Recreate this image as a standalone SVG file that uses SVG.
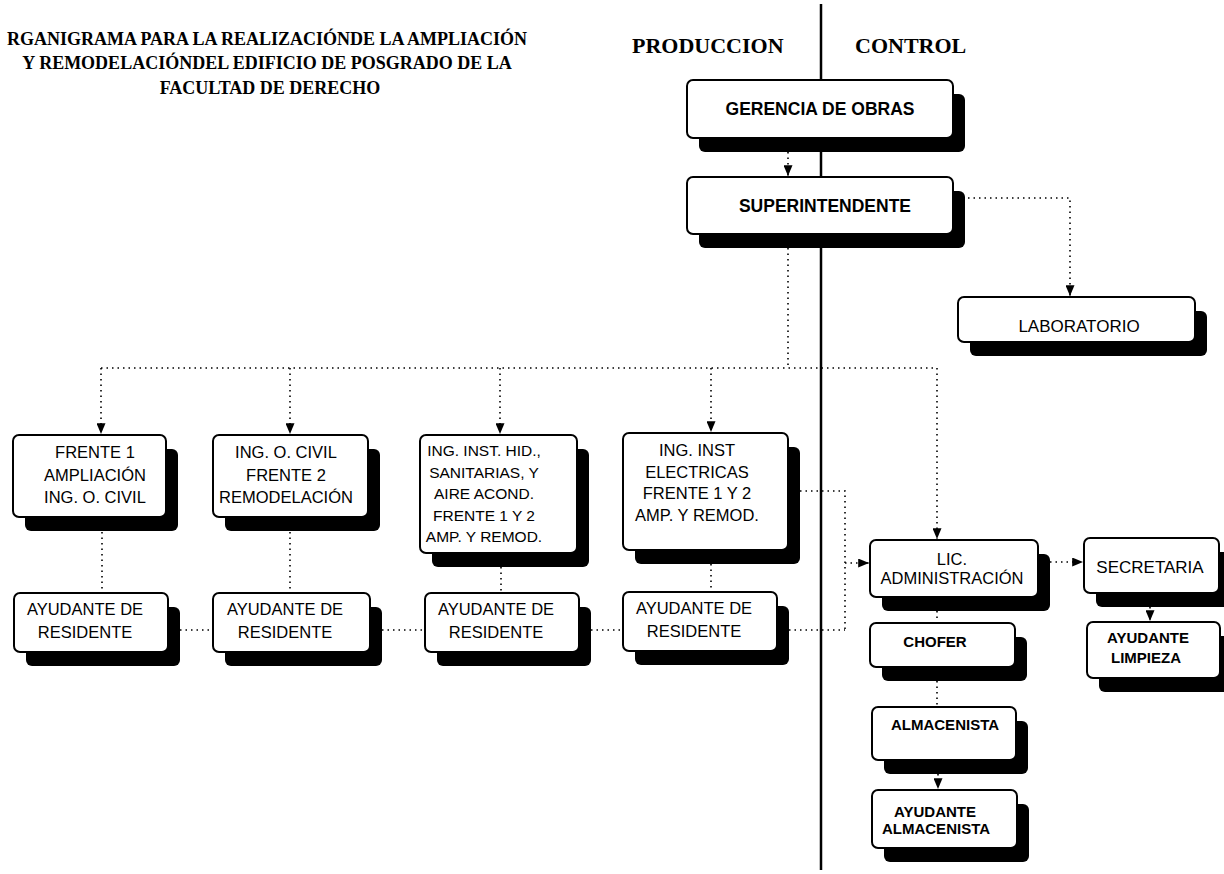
<svg xmlns="http://www.w3.org/2000/svg" width="1224" height="874" viewBox="0 0 1224 874">
<style>
.bg{fill:#fff}
.box{fill:#fff;stroke:#000;stroke-width:2}
.sh{fill:#000}
.dot{fill:none;stroke:#000;stroke-width:1.6;stroke-dasharray:1.5 4}
.axis{fill:none;stroke:#000;stroke-width:2.5}
.t{font-family:"Liberation Sans",Arial,sans-serif;font-size:16.5px;fill:#000;text-anchor:middle}
.b{font-weight:bold}
.s15{font-size:15px}
.hd{font-family:"Liberation Serif","Times New Roman",serif;font-weight:bold;fill:#000}
.title{font-size:18px;text-anchor:middle}
.col{font-size:22px}
</style>
<defs>
<marker id="ah" viewBox="0 0 12 10" refX="12" refY="5" markerWidth="12" markerHeight="9" markerUnits="userSpaceOnUse" orient="auto">
<path d="M0,0 L12,5 L0,10 z" fill="#000"/>
</marker>
</defs>
<rect class="bg" x="0" y="0" width="1224" height="874"/>

<g id="title">
<text class="hd title" x="267" y="45">RGANIGRAMA PARA LA REALIZACIÓNDE LA AMPLIACIÓN</text>
<text class="hd title" x="267" y="69">Y REMODELACIÓNDEL EDIFICIO DE POSGRADO DE LA</text>
<text class="hd title" x="270" y="94">FACULTAD DE DERECHO</text>
</g>
<g id="headers">
<text class="hd col" x="632" y="53">PRODUCCION</text>
<text class="hd col" x="855" y="53">CONTROL</text>
<line class="axis" x1="821" y1="4" x2="821" y2="870"/>
</g>

<g id="connectors">
<path class="dot" d="M788,152 V176" marker-end="url(#ah)"/>
<path class="dot" d="M788,248 V368"/>
<path class="dot" d="M968,198 H1070 V296" marker-end="url(#ah)"/>
<path class="dot" d="M101,368 H937"/>
<path class="dot" d="M101,368 V434" marker-end="url(#ah)"/>
<path class="dot" d="M290,368 V434" marker-end="url(#ah)"/>
<path class="dot" d="M500,368 V434" marker-end="url(#ah)"/>
<path class="dot" d="M711,368 V432" marker-end="url(#ah)"/>
<path class="dot" d="M937,368 V539" marker-end="url(#ah)"/>
<path class="dot" d="M102,532 V593"/>
<path class="dot" d="M290,532 V593"/>
<path class="dot" d="M501,567 V593"/>
<path class="dot" d="M711,564 V592"/>
<path class="dot" d="M180,630 H213"/>
<path class="dot" d="M382,630 H425"/>
<path class="dot" d="M591,630 H623"/>
<path class="dot" d="M789,630 H845"/>
<path class="dot" d="M800,491 H845 V630"/>
<path class="dot" d="M845,563 H869" marker-end="url(#ah)"/>
<path class="dot" d="M1050,562 H1083" marker-end="url(#ah)"/>
<path class="dot" d="M1150,607 V621" marker-end="url(#ah)"/>
<path class="dot" d="M937,611 V623"/>
<path class="dot" d="M937,681 V707"/>
<path class="dot" d="M938,774 V789" marker-end="url(#ah)"/>
</g>

<g id="gerencia">
<rect class="sh" x="699" y="94" width="266" height="58" rx="6"/>
<rect class="box" x="687" y="80" width="266" height="58" rx="6"/>
<text class="t b" style="font-size:17.5px" x="820" y="115">GERENCIA DE OBRAS</text>
</g>
<g id="superintendente">
<rect class="sh" x="699" y="191" width="266" height="57" rx="6"/>
<rect class="box" x="687" y="177" width="266" height="57" rx="6"/>
<text class="t b" style="font-size:17.5px" x="825" y="212">SUPERINTENDENTE</text>
</g>
<g id="laboratorio">
<rect class="sh" x="970" y="311" width="237" height="45" rx="6"/>
<rect class="box" x="958" y="297" width="237" height="45" rx="6"/>
<text class="t" style="font-size:17px" x="1079" y="332">LABORATORIO</text>
</g>
<g id="frente1">
<rect class="sh" x="25" y="449" width="153" height="82" rx="6"/>
<rect class="box" x="13" y="435" width="153" height="82" rx="6"/>
<text class="t" x="95" y="458">FRENTE 1</text>
<text class="t" x="95" y="481">AMPLIACIÓN</text>
<text class="t" x="95" y="503">ING. O. CIVIL</text>
</g>
<g id="frente2">
<rect class="sh" x="225" y="449" width="155" height="82" rx="6"/>
<rect class="box" x="213" y="435" width="155" height="82" rx="6"/>
<text class="t" x="286" y="458">ING. O. CIVIL</text>
<text class="t" x="286" y="481">FRENTE 2</text>
<text class="t" x="286" y="503">REMODELACIÓN</text>
</g>
<g id="hidraulicas">
<rect class="sh" x="432" y="449" width="157" height="118" rx="6"/>
<rect class="box" x="420" y="435" width="157" height="118" rx="6"/>
<text class="t" style="font-size:15.5px" x="484" y="456">ING. INST. HID.,</text>
<text class="t" style="font-size:15.5px" x="484" y="477.5">SANITARIAS, Y</text>
<text class="t" style="font-size:15.5px" x="484" y="499">AIRE ACOND.</text>
<text class="t" style="font-size:15.5px" x="484" y="520.5">FRENTE 1 Y 2</text>
<text class="t" style="font-size:15.5px" x="484" y="542">AMP. Y REMOD.</text>
</g>
<g id="electricas">
<rect class="sh" x="635" y="447" width="165" height="117" rx="6"/>
<rect class="box" x="623" y="433" width="165" height="117" rx="6"/>
<text class="t" x="697" y="456">ING. INST</text>
<text class="t" x="697" y="478">ELECTRICAS</text>
<text class="t" x="697" y="499">FRENTE 1 Y 2</text>
<text class="t" x="697" y="521">AMP. Y REMOD.</text>
</g>
<g id="ayudante1">
<rect class="sh" x="26" y="607" width="154" height="59" rx="6"/>
<rect class="box" x="14" y="593" width="154" height="59" rx="6"/>
<text class="t" x="85" y="615">AYUDANTE DE</text>
<text class="t" x="85" y="638">RESIDENTE</text>
</g>
<g id="ayudante2">
<rect class="sh" x="225" y="607" width="157" height="59" rx="6"/>
<rect class="box" x="213" y="593" width="157" height="59" rx="6"/>
<text class="t" x="285" y="615">AYUDANTE DE</text>
<text class="t" x="285" y="638">RESIDENTE</text>
</g>
<g id="ayudante3">
<rect class="sh" x="437" y="607" width="154" height="59" rx="6"/>
<rect class="box" x="425" y="593" width="154" height="59" rx="6"/>
<text class="t" x="496" y="615">AYUDANTE DE</text>
<text class="t" x="496" y="638">RESIDENTE</text>
</g>
<g id="ayudante4">
<rect class="sh" x="635" y="606" width="154" height="59" rx="6"/>
<rect class="box" x="623" y="592" width="154" height="59" rx="6"/>
<text class="t" x="694" y="614">AYUDANTE DE</text>
<text class="t" x="694" y="637">RESIDENTE</text>
</g>
<g id="administracion">
<rect class="sh" x="882" y="554" width="168" height="57" rx="6"/>
<rect class="box" x="870" y="540" width="168" height="57" rx="6"/>
<text class="t" x="952" y="565">LIC.</text>
<text class="t" x="952" y="584">ADMINISTRACIÓN</text>
</g>
<g id="secretaria">
<rect class="sh" x="1096" y="552" width="135" height="55" rx="6"/>
<rect class="box" x="1084" y="538" width="135" height="55" rx="6"/>
<text class="t" style="font-size:17px" x="1150" y="573">SECRETARIA</text>
</g>
<g id="chofer">
<rect class="sh" x="882" y="637" width="145" height="44" rx="6"/>
<rect class="box" x="870" y="623" width="145" height="44" rx="6"/>
<text class="t b s15" x="935" y="647">CHOFER</text>
</g>
<g id="almacenista">
<rect class="sh" x="884" y="721" width="144" height="53" rx="6"/>
<rect class="box" x="872" y="707" width="144" height="53" rx="6"/>
<text class="t b s15" x="945" y="730">ALMACENISTA</text>
</g>
<g id="ayudante-almacenista">
<rect class="sh" x="884" y="804" width="145" height="58" rx="6"/>
<rect class="box" x="872" y="790" width="145" height="58" rx="6"/>
<text class="t b s15" x="935" y="817">AYUDANTE</text>
<text class="t b s15" x="936" y="834">ALMACENISTA</text>
</g>
<g id="ayudante-limpieza">
<rect class="sh" x="1099" y="636" width="133" height="56" rx="6"/>
<rect class="box" x="1087" y="622" width="133" height="56" rx="6"/>
<text class="t b s15" x="1148" y="643">AYUDANTE</text>
<text class="t b s15" x="1146" y="663">LIMPIEZA</text>
</g>
</svg>
